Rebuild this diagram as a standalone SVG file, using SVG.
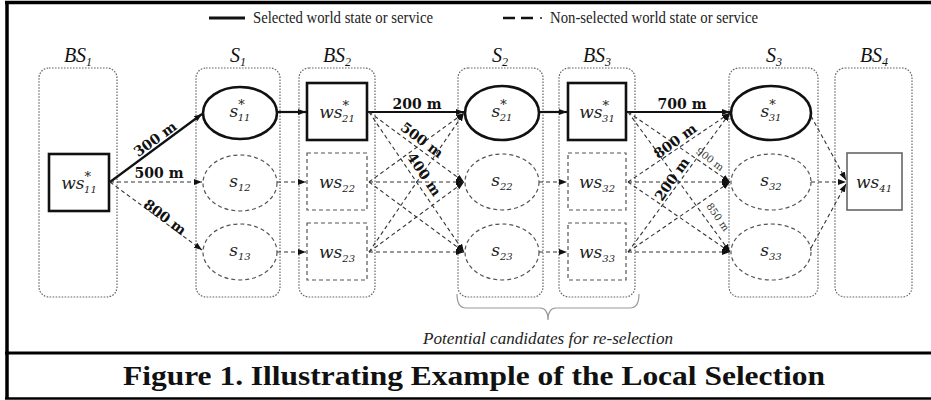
<svg xmlns="http://www.w3.org/2000/svg" width="931" height="400" viewBox="0 0 931 400">
<style>
.frame{stroke:#000;fill:none}
.cont{fill:none;stroke:#666;stroke-width:1.2;stroke-dasharray:1.6 1.4}
.selR{fill:#fff;stroke:#111;stroke-width:2.6}
.selE{fill:#fff;stroke:#111;stroke-width:2.6}
.nsR{fill:#fff;stroke:#555;stroke-width:1.2;stroke-dasharray:4 3}
.nsE{fill:#fff;stroke:#555;stroke-width:1.2;stroke-dasharray:4 3}
.endR{fill:#fff;stroke:#666;stroke-width:1.6}
.sol{stroke:#111;stroke-width:2.2;fill:none}
.dsh{stroke:#333;stroke-width:1.1;fill:none;stroke-dasharray:4 3}
.hd{font-family:"Liberation Serif",serif;font-style:italic;font-size:20px;fill:#111}
.lb{font-family:"DejaVu Serif",serif;font-style:italic;font-size:17px;fill:#222}
.blab{font-family:"DejaVu Serif",serif;font-weight:bold;font-size:14px;fill:#111}
.slab{font-family:"DejaVu Serif",serif;font-size:10px;fill:#333}
.leg{font-family:"Liberation Serif",serif;font-size:16px;fill:#222}
</style>
<defs>
<marker id="ah" markerUnits="userSpaceOnUse" markerWidth="9" markerHeight="7" refX="8" refY="3.5" orient="auto">
<path d="M0,0.5 L8,3.5 L0,6.5 z" fill="#111"/>
</marker>
</defs>
<rect x="0" y="0" width="931" height="400" fill="#fff"/>
<g id="frame">
<line class="frame" x1="5" y1="2.5" x2="931" y2="2.5" stroke-width="3.5"/>
<line class="frame" x1="7" y1="1" x2="7" y2="399" stroke-width="3.5"/>
<line class="frame" x1="5" y1="353" x2="931" y2="353" stroke-width="3"/>
<line class="frame" x1="5" y1="398.5" x2="931" y2="398.5" stroke-width="2.5"/>
</g>
<g id="legend">
<line x1="209" y1="18" x2="245" y2="18" stroke="#111" stroke-width="3"/>
<text class="leg" x="253" y="23" textLength="180" lengthAdjust="spacingAndGlyphs">Selected world state or service</text>
<line x1="503" y1="18" x2="533" y2="18" stroke="#111" stroke-width="2.5" stroke-dasharray="12 6"/>
<line x1="540" y1="18" x2="542" y2="18" stroke="#555" stroke-width="2"/>
<text class="leg" x="550" y="23" textLength="208" lengthAdjust="spacingAndGlyphs">Non-selected world state or service</text>
</g>
<g id="containers">
<g id="BS1"><rect class="cont" x="39" y="68" width="78" height="229" rx="10"/><text class="hd" x="78" y="62" text-anchor="middle">BS<tspan font-size="12" dy="4">1</tspan></text></g>
<g id="S1"><rect class="cont" x="196" y="68" width="84" height="229" rx="10"/><text class="hd" x="238" y="62" text-anchor="middle">S<tspan font-size="12" dy="4">1</tspan></text></g>
<g id="BS2"><rect class="cont" x="299" y="68" width="76" height="229" rx="10"/><text class="hd" x="337" y="62" text-anchor="middle">BS<tspan font-size="12" dy="4">2</tspan></text></g>
<g id="S2"><rect class="cont" x="458" y="68" width="85" height="229" rx="10"/><text class="hd" x="500" y="62" text-anchor="middle">S<tspan font-size="12" dy="4">2</tspan></text></g>
<g id="BS3"><rect class="cont" x="559" y="68" width="76" height="229" rx="10"/><text class="hd" x="597" y="62" text-anchor="middle">BS<tspan font-size="12" dy="4">3</tspan></text></g>
<g id="S3"><rect class="cont" x="729" y="68" width="89" height="229" rx="10"/><text class="hd" x="774" y="62" text-anchor="middle">S<tspan font-size="12" dy="4">3</tspan></text></g>
<g id="BS4"><rect class="cont" x="835" y="68" width="77" height="229" rx="10"/><text class="hd" x="874" y="62" text-anchor="middle">BS<tspan font-size="12" dy="4">4</tspan></text></g>
</g>
<g id="connectors">
<path class="sol" d="M110,182 L202,114" marker-end="url(#ah)"/>
<path class="dsh" d="M110,182 L202,182" marker-end="url(#ah)"/>
<path class="dsh" d="M110,182 L202,250" marker-end="url(#ah)"/>
<path class="sol" d="M277,112 L306,112" marker-end="url(#ah)"/>
<path class="dsh" d="M277,182 L306,182" marker-end="url(#ah)"/>
<path class="dsh" d="M277,252 L306,252" marker-end="url(#ah)"/>
<path class="sol" d="M367,112 L464,112" marker-end="url(#ah)"/>
<path class="dsh" d="M369,112 L464,182" marker-end="url(#ah)"/>
<path class="dsh" d="M369,112 L464,252" marker-end="url(#ah)"/>
<path class="dsh" d="M369,182 L464,113" marker-end="url(#ah)"/>
<path class="dsh" d="M369,182 L464,182" marker-end="url(#ah)"/>
<path class="dsh" d="M369,182 L464,252" marker-end="url(#ah)"/>
<path class="dsh" d="M369,252 L464,113" marker-end="url(#ah)"/>
<path class="dsh" d="M369,252 L464,182" marker-end="url(#ah)"/>
<path class="dsh" d="M369,252 L464,252" marker-end="url(#ah)"/>
<path class="sol" d="M539,112 L567,112" marker-end="url(#ah)"/>
<path class="dsh" d="M539,182 L567,182" marker-end="url(#ah)"/>
<path class="dsh" d="M539,252 L567,252" marker-end="url(#ah)"/>
<path class="sol" d="M626,112 L730,112" marker-end="url(#ah)"/>
<path class="dsh" d="M628,112 L730,182" marker-end="url(#ah)"/>
<path class="dsh" d="M628,112 L730,252" marker-end="url(#ah)"/>
<path class="dsh" d="M628,182 L730,113" marker-end="url(#ah)"/>
<path class="dsh" d="M628,182 L730,182" marker-end="url(#ah)"/>
<path class="dsh" d="M628,182 L730,252" marker-end="url(#ah)"/>
<path class="dsh" d="M628,252 L730,113" marker-end="url(#ah)"/>
<path class="dsh" d="M628,252 L730,182" marker-end="url(#ah)"/>
<path class="dsh" d="M628,252 L730,252" marker-end="url(#ah)"/>
<path class="dsh" d="M811,116 L846,180" marker-end="url(#ah)"/>
<path class="dsh" d="M811,182 L846,182" marker-end="url(#ah)"/>
<path class="dsh" d="M811,248 L846,184" marker-end="url(#ah)"/>
<text class="blab" transform="translate(158,143) rotate(-36)" text-anchor="middle">300 m</text>
<text class="blab" x="159" y="178" text-anchor="middle">500 m</text>
<text class="blab" transform="translate(162,221) rotate(37)" text-anchor="middle">800 m</text>
<text class="blab" x="417" y="109" text-anchor="middle">200 m</text>
<text class="blab" transform="translate(419,144) rotate(37)" text-anchor="middle">500 m</text>
<text class="blab" transform="translate(420,177) rotate(56)" text-anchor="middle">400 m</text>
<text class="blab" x="682" y="109" text-anchor="middle">700 m</text>
<text class="blab" transform="translate(678,145) rotate(-36)" text-anchor="middle">800 m</text>
<text class="blab" transform="translate(676,182) rotate(-55)" text-anchor="middle">200 m</text>
<text class="slab" transform="translate(708,162) rotate(37)" text-anchor="middle">900 m</text>
<text class="slab" transform="translate(715,219) rotate(55)" text-anchor="middle">850 m</text>
</g>
<g id="ws11"><rect class="selR" x="49" y="154" width="60" height="57"/><text class="lb" x="79" y="189" text-anchor="middle">ws<tspan font-size="13" dy="-8">*</tspan><tspan font-size="10" dx="-7" dy="12">11</tspan></text></g>
<g id="s11"><ellipse class="selE" cx="240" cy="113" rx="37" ry="26"/><text class="lb" x="240" y="117" text-anchor="middle">s<tspan font-size="13" dy="-8">*</tspan><tspan font-size="10" dx="-7" dy="12">11</tspan></text></g>
<g id="s12"><ellipse class="nsE" cx="240" cy="183" rx="37" ry="28"/><text class="lb" x="240" y="187" text-anchor="middle">s<tspan font-size="10" dy="4">12</tspan></text></g>
<g id="s13"><ellipse class="nsE" cx="240" cy="252" rx="37" ry="28"/><text class="lb" x="240" y="256" text-anchor="middle">s<tspan font-size="10" dy="4">13</tspan></text></g>
<g id="ws21"><rect class="selR" x="307" y="83" width="60" height="57"/><text class="lb" x="337" y="118" text-anchor="middle">ws<tspan font-size="13" dy="-8">*</tspan><tspan font-size="10" dx="-7" dy="12">21</tspan></text></g>
<g id="ws22"><rect class="nsR" x="307" y="153" width="60" height="57"/><text class="lb" x="337" y="188" text-anchor="middle">ws<tspan font-size="10" dy="4">22</tspan></text></g>
<g id="ws23"><rect class="nsR" x="307" y="223" width="60" height="57"/><text class="lb" x="337" y="258" text-anchor="middle">ws<tspan font-size="10" dy="4">23</tspan></text></g>
<g id="s21"><ellipse class="selE" cx="502" cy="113" rx="37" ry="27"/><text class="lb" x="502" y="117" text-anchor="middle">s<tspan font-size="13" dy="-8">*</tspan><tspan font-size="10" dx="-7" dy="12">21</tspan></text></g>
<g id="s22"><ellipse class="nsE" cx="502" cy="182" rx="37" ry="28"/><text class="lb" x="502" y="186" text-anchor="middle">s<tspan font-size="10" dy="4">22</tspan></text></g>
<g id="s23"><ellipse class="nsE" cx="502" cy="252" rx="37" ry="28"/><text class="lb" x="502" y="256" text-anchor="middle">s<tspan font-size="10" dy="4">23</tspan></text></g>
<g id="ws31"><rect class="selR" x="568" y="83" width="58" height="57"/><text class="lb" x="597" y="118" text-anchor="middle">ws<tspan font-size="13" dy="-8">*</tspan><tspan font-size="10" dx="-7" dy="12">31</tspan></text></g>
<g id="ws32"><rect class="nsR" x="568" y="153" width="58" height="57"/><text class="lb" x="597" y="188" text-anchor="middle">ws<tspan font-size="10" dy="4">32</tspan></text></g>
<g id="ws33"><rect class="nsR" x="568" y="223" width="58" height="57"/><text class="lb" x="597" y="258" text-anchor="middle">ws<tspan font-size="10" dy="4">33</tspan></text></g>
<g id="s31"><ellipse class="selE" cx="771" cy="113" rx="40" ry="27"/><text class="lb" x="771" y="117" text-anchor="middle">s<tspan font-size="13" dy="-8">*</tspan><tspan font-size="10" dx="-7" dy="12">31</tspan></text></g>
<g id="s32"><ellipse class="nsE" cx="771" cy="182" rx="40" ry="28"/><text class="lb" x="771" y="186" text-anchor="middle">s<tspan font-size="10" dy="4">32</tspan></text></g>
<g id="s33"><ellipse class="nsE" cx="771" cy="252" rx="40" ry="28"/><text class="lb" x="771" y="256" text-anchor="middle">s<tspan font-size="10" dy="4">33</tspan></text></g>
<g id="ws41"><rect class="endR" x="847" y="153" width="55" height="57"/><text class="lb" x="874" y="188" text-anchor="middle">ws<tspan font-size="10" dy="4">41</tspan></text></g>
<g id="bracket">
<path d="M457,294 Q457,308 466,308 L540,308 Q548,308 548,320 Q548,308 556,308 L630,308 Q639,308 639,294" fill="none" stroke="#999" stroke-width="1.2"/>
<text x="548" y="344" text-anchor="middle" font-family="Liberation Serif, serif" font-style="italic" font-size="16" fill="#222" textLength="250" lengthAdjust="spacingAndGlyphs">Potential candidates for re-selection</text>
</g>
<g id="caption">
<text x="123" y="385" font-family="Liberation Serif, serif" font-weight="bold" font-size="28" fill="#111" textLength="702" lengthAdjust="spacingAndGlyphs">Figure 1. Illustrating Example of the Local Selection</text>
</g>
</svg>
